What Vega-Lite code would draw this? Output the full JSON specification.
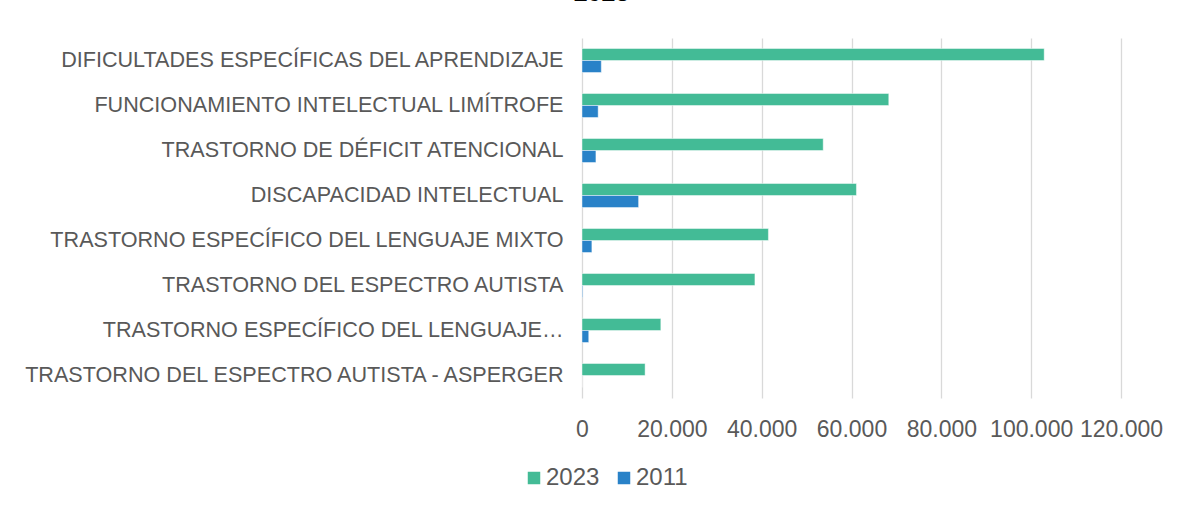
{
  "$schema": "https://vega.github.io/schema/vega-lite/v6.json",
  "autosize": {"type": "none"},
  "width": 539,
  "height": 360,
  "padding": {"left": 582, "top": 38, "right": 70, "bottom": 109},
  "background": "white",
  "config": {
    "font": "Liberation Sans",
    "view": {"stroke": null},
    "locale": {"number": {"decimal": ",", "thousands": ".", "grouping": [3], "currency": ["", ""]}}
  },
  "title": {
    "text": "2023",
    "frame": "group",
    "anchor": "middle",
    "dx": -250,
    "offset": 12,
    "baseline": "alphabetic",
    "fontSize": 25,
    "fontWeight": "bold",
    "color": "#000000"
  },
  "data": {
    "values": [
      {"categoria": "DIFICULTADES ESPECÍFICAS DEL APRENDIZAJE", "anio": "2023", "estudiantes": 102900},
      {"categoria": "DIFICULTADES ESPECÍFICAS DEL APRENDIZAJE", "anio": "2011", "estudiantes": 4300},
      {"categoria": "FUNCIONAMIENTO INTELECTUAL LIMÍTROFE", "anio": "2023", "estudiantes": 68300},
      {"categoria": "FUNCIONAMIENTO INTELECTUAL LIMÍTROFE", "anio": "2011", "estudiantes": 3600},
      {"categoria": "TRASTORNO DE DÉFICIT ATENCIONAL", "anio": "2023", "estudiantes": 53700},
      {"categoria": "TRASTORNO DE DÉFICIT ATENCIONAL", "anio": "2011", "estudiantes": 3100},
      {"categoria": "DISCAPACIDAD INTELECTUAL", "anio": "2023", "estudiantes": 61100},
      {"categoria": "DISCAPACIDAD INTELECTUAL", "anio": "2011", "estudiantes": 12600},
      {"categoria": "TRASTORNO ESPECÍFICO DEL LENGUAJE MIXTO", "anio": "2023", "estudiantes": 41500},
      {"categoria": "TRASTORNO ESPECÍFICO DEL LENGUAJE MIXTO", "anio": "2011", "estudiantes": 2200},
      {"categoria": "TRASTORNO DEL ESPECTRO AUTISTA", "anio": "2023", "estudiantes": 38500},
      {"categoria": "TRASTORNO DEL ESPECTRO AUTISTA", "anio": "2011", "estudiantes": 150},
      {"categoria": "TRASTORNO ESPECÍFICO DEL LENGUAJE EXPRESIVO", "anio": "2023", "estudiantes": 17550},
      {"categoria": "TRASTORNO ESPECÍFICO DEL LENGUAJE EXPRESIVO", "anio": "2011", "estudiantes": 1500},
      {"categoria": "TRASTORNO DEL ESPECTRO AUTISTA - ASPERGER", "anio": "2023", "estudiantes": 14050},
      {"categoria": "TRASTORNO DEL ESPECTRO AUTISTA - ASPERGER", "anio": "2011", "estudiantes": 0}
    ]
  },
  "mark": {"type": "bar", "stroke": "#ffffff", "strokeWidth": 1, "strokeOpacity": 0.45},
  "encoding": {
    "y": {
      "field": "categoria",
      "type": "nominal",
      "sort": null,
      "scale": {"paddingInner": 0.467, "paddingOuter": 0.2335},
      "axis": {
        "title": null,
        "ticks": false,
        "domain": false,
        "grid": false,
        "labelFontSize": 21.6,
        "labelColor": "#595959",
        "labelPadding": 19,
        "labelLimit": 600,
        "labelExpr": "datum.label == 'TRASTORNO ESPECÍFICO DEL LENGUAJE EXPRESIVO' ? 'TRASTORNO ESPECÍFICO DEL LENGUAJE…' : datum.label"
      }
    },
    "yOffset": {
      "field": "anio",
      "type": "nominal",
      "sort": ["2023", "2011"],
      "scale": {"paddingInner": 0, "paddingOuter": 0}
    },
    "x": {
      "field": "estudiantes",
      "type": "quantitative",
      "scale": {"domain": [0, 120000], "nice": false},
      "axis": {
        "title": null,
        "values": [0, 20000, 40000, 60000, 80000, 100000, 120000],
        "format": ",.0f",
        "ticks": false,
        "domain": false,
        "grid": true,
        "gridColor": "#d9d9d9",
        "gridWidth": 1.3,
        "labelFontSize": 23,
        "labelColor": "#595959",
        "labelPadding": 20,
        "labelFlush": false,
        "labelOverlap": false
      }
    },
    "color": {
      "field": "anio",
      "type": "nominal",
      "sort": ["2023", "2011"],
      "scale": {"domain": ["2023", "2011"], "range": ["#43BB96", "#2982C8"]},
      "legend": {
        "title": null,
        "orient": "none",
        "direction": "horizontal",
        "legendX": -60,
        "legendY": 428,
        "symbolType": "square",
        "symbolSize": 156,
        "symbolStrokeWidth": 0,
        "labelFontSize": 24,
        "labelColor": "#595959",
        "labelOffset": 0,
        "columnPadding": 12
      }
    }
  }
}
